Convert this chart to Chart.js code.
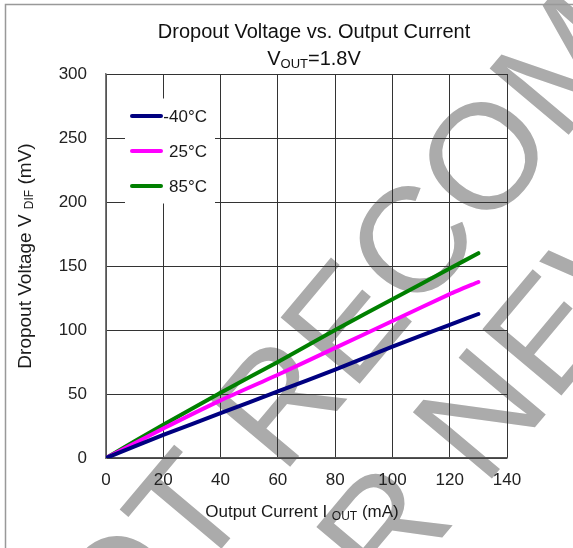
<!DOCTYPE html>
<html>
<head>
<meta charset="utf-8">
<script src="https://cdn.jsdelivr.net/npm/chart.js@4.4.1/dist/chart.umd.min.js"></script>
<style>
  html, body { margin: 0; padding: 0; background: #fff; }
  canvas { display: block; }
</style>
</head>
<body>
<canvas id="chartDropout" width="573" height="548"></canvas>
<script>
// ==================== DADOS ====================
const currentMA   = [0, 20, 40, 60, 80, 100, 120, 130];
const dropMinus40 = [0, 18, 35, 52, 69, 87, 104, 112.5];
const drop25      = [0, 23, 45, 65, 86, 107, 128, 137.5];
const drop85      = [0, 26, 51, 75, 100, 124, 148, 160];
const seriesLabels = ['-40°C', '25°C', '85°C'];
const seriesColors = ['#000080', '#ff00ff', '#008000'];
const xMax = 140, xStep = 20;
const yMax = 300, yStep = 50;
const titleLine1 = 'Dropout Voltage vs. Output Current';
const titleLine2 = ['V', 'OUT', '=1.8V'];
const xTitle = ['Output Current I ', 'OUT', ' (mA)'];
const yTitle = ['Dropout Voltage V ', 'DIF', ' (mV)'];
const watermark = ['NOT RECOMMENDED', 'FOR NEW DESIGN'];

const FONT = '"Liberation Sans", Arial, sans-serif';

// desenha texto com um subscrito no meio, centrado em x
function drawSub(ctx, parts, x, y, size, subSize, subDy) {
  ctx.font = size + 'px ' + FONT;
  const w0 = ctx.measureText(parts[0]).width;
  const w2 = ctx.measureText(parts[2]).width;
  ctx.font = subSize + 'px ' + FONT;
  const w1 = ctx.measureText(parts[1]).width;
  let cx = x - (w0 + w1 + w2) / 2;
  ctx.textAlign = 'left';
  ctx.textBaseline = 'alphabetic';
  ctx.font = size + 'px ' + FONT;
  ctx.fillText(parts[0], cx, y); cx += w0;
  ctx.font = subSize + 'px ' + FONT;
  ctx.fillText(parts[1], cx, y + subDy); cx += w1;
  ctx.font = size + 'px ' + FONT;
  ctx.fillText(parts[2], cx, y);
}

const decoPlugin = {
  id: 'deco',
  beforeDraw(chart) {
    const ctx = chart.ctx;
    ctx.save();
    ctx.fillStyle = '#fff';
    ctx.fillRect(0, 0, chart.width, chart.height);
    // marca d'agua
    ctx.translate(514, 116);
    ctx.rotate(-50 * Math.PI / 180);
    ctx.fillStyle = '#ababab';
    ctx.font = '150px ' + FONT;
    ctx.textAlign = 'center';
    ctx.textBaseline = 'alphabetic';
    ctx.fillText(watermark[0], 0, 54);
    ctx.fillText(watermark[1], 0, 162 + 54);
    ctx.restore();
  },
  afterDraw(chart) {
    const ctx = chart.ctx;
    ctx.save();
    ctx.fillStyle = '#111';
    // titulo
    ctx.font = '20px ' + FONT;
    ctx.textAlign = 'center';
    ctx.textBaseline = 'alphabetic';
    ctx.fillText(titleLine1, 314, 38);
    drawSub(ctx, titleLine2, 314, 65, 20, 13, 3);
    // titulos dos eixos
    ctx.fillStyle = '#1a1a1a';
    drawSub(ctx, xTitle, 302, 517, 17, 12, 3);
    ctx.save();
    ctx.translate(31, 256);
    ctx.rotate(-Math.PI / 2);
    drawSub(ctx, yTitle, 0, 0, 19, 12, 2);
    ctx.restore();

    // legenda
    ctx.fillStyle = '#fff';
    ctx.fillRect(125, 98.5, 90, 105);
    chart.data.datasets.forEach((ds, i) => {
      const y = 116 + i * 35;
      ctx.strokeStyle = ds.borderColor;
      ctx.lineWidth = 4;
      ctx.lineCap = 'round';
      ctx.beginPath();
      ctx.moveTo(132, y);
      ctx.lineTo(161, y);
      ctx.stroke();
      ctx.fillStyle = '#1a1a1a';
      ctx.font = '17px ' + FONT;
      ctx.textAlign = 'right';
      ctx.fillText(ds.label, 207, y + 6);
    });

    // moldura externa
    ctx.strokeStyle = '#999';
    ctx.lineWidth = 1.5;
    ctx.beginPath();
    ctx.moveTo(5.5, chart.height);
    ctx.lineTo(5.5, 4.5);
    ctx.lineTo(chart.width, 4.5);
    ctx.stroke();
    ctx.restore();
  }
};

function toPts(ys) {
  return currentMA.map((x, i) => ({ x: x, y: ys[i] }));
}

const cxDropout = document.getElementById('chartDropout');
const chtDropout = new Chart(cxDropout, {
  type: 'line',
  data: {
    datasets: [dropMinus40, drop25, drop85].map((ys, i) => ({
      label: seriesLabels[i],
      data: toPts(ys),
      borderColor: seriesColors[i],
      backgroundColor: seriesColors[i],
      borderWidth: 4,
      borderCapStyle: 'round',
      pointRadius: 0,
      tension: 0.2,
      fill: false,
    })),
  },
  options: {
    responsive: false,
    animation: false,
    layout: { padding: { left: 0, right: 66, top: 74, bottom: 0 } },
    scales: {
      x: {
        type: 'linear',
        min: 0,
        max: xMax,
        afterFit: s => { s.height = 90; },
        ticks: { stepSize: xStep, padding: 12, color: '#222', font: { family: FONT, size: 17 } },
        grid: { color: '#333', lineWidth: 1, drawTicks: false },
        border: { color: '#555', width: 1.5 },
      },
      y: {
        min: 0,
        max: yMax,
        afterFit: s => { s.width = 106; },
        ticks: { stepSize: yStep, padding: 19, color: '#222', font: { family: FONT, size: 17 } },
        grid: { color: '#333', lineWidth: 1, drawTicks: false },
        border: { color: '#777', width: 1.5 },
      },
    },
    plugins: {
      legend: { display: false },
      title: { display: false },
      tooltip: { enabled: false },
    },
  },
  plugins: [decoPlugin],
});
</script>
</body>
</html>
